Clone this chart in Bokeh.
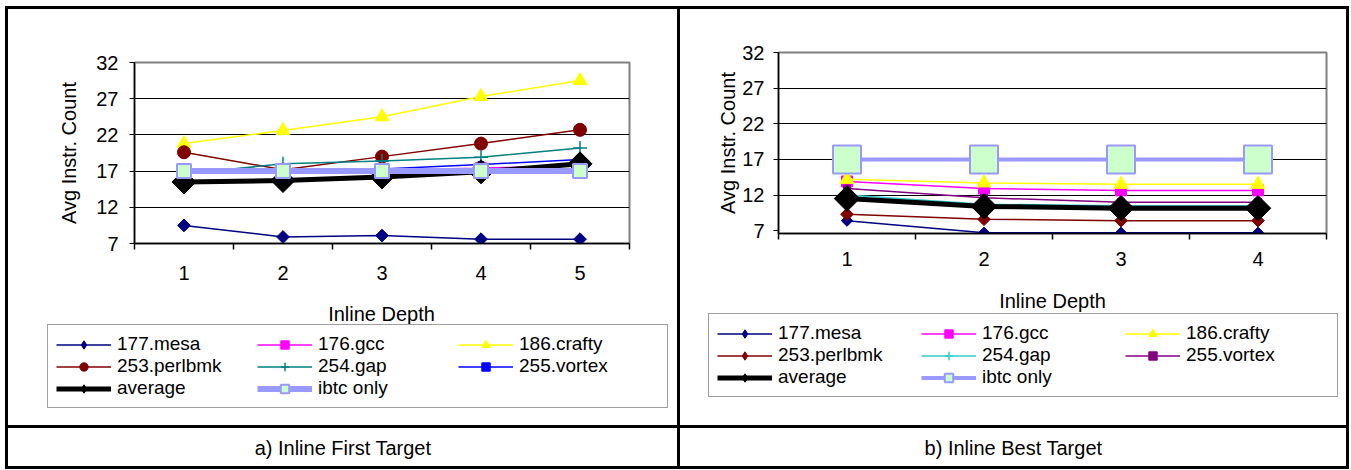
import numpy as np
from bokeh.plotting import figure
from bokeh.models import FixedTicker, Legend, LegendItem, Label, Spacer, Range1d
from bokeh.layouts import row, column
from bokeh.embed import file_html
from bokeh.resources import INLINE

FONT = "Liberation Sans"

# ---------------- data ----------------
series_names = ["177.mesa", "176.gcc", "186.crafty", "253.perlbmk",
                "254.gap", "255.vortex", "average", "ibtc only"]
y_ticks = [7, 12, 17, 22, 27, 32]
x_title = "Inline Depth"
y_title = "Avg Instr. Count"

# a) Inline First Target
depth_a = [1, 2, 3, 4, 5]
mesa_a = [9.5, 7.9, 8.1, 7.6, 7.6]
gcc_a = [17.2, 17.0, 17.2, 17.4, 17.8]
crafty_a = [20.8, 22.6, 24.5, 27.3, 29.5]
perlbmk_a = [19.6, 17.2, 19.0, 20.8, 22.7]
gap_a = [16.6, 18.0, 18.4, 18.9, 20.2]
vortex_a = [16.9, 17.0, 17.3, 17.9, 18.6]
average_a = [15.5, 15.7, 16.2, 16.9, 18.0]
ibtc_a = [17, 17, 17, 17, 17]

# b) Inline Best Target
depth_b = [1, 2, 3, 4]
mesa_b = [8.4, 6.7, 6.7, 6.7]
gcc_b = [13.9, 12.9, 12.65, 12.65]
crafty_b = [14.2, 13.7, 13.5, 13.5]
perlbmk_b = [9.3, 8.6, 8.4, 8.4]
gap_b = [12.0, 10.7, 10.5, 10.5]
vortex_b = [12.9, 11.6, 11.0, 11.0]
average_b = [11.5, 10.4, 10.15, 10.15]
ibtc_b = [17, 17, 17, 17]

captions = ["a) Inline First Target", "b) Inline Best Target"]

# ---------------- styles ----------------
D = np.pi / 4
styles_a = [
    dict(color="#000080", lw=1.5, marker="square", size=9, fill="#000080", mline="#000080", mlw=1, angle=D),
    dict(color="#FF00FF", lw=1.5, marker="square", size=11, fill="#FF00FF", mline="#FF00FF", mlw=1, angle=0),
    dict(color="#FFFF00", lw=1.5, marker="triangle", size=14, fill="#FFFF00", mline="#FFFF00", mlw=1, angle=0),
    dict(color="#800000", lw=1.5, marker="circle", size=13, fill="#800000", mline="#800000", mlw=1, angle=0),
    dict(color="#008080", lw=1.5, marker="cross", size=14, fill="#008080", mline="#008080", mlw=1.5, angle=0),
    dict(color="#0000FF", lw=1.5, marker="square", size=6, fill="#0000FF", mline="#0000FF", mlw=1, angle=0),
    dict(color="#000000", lw=5, marker="square", size=17, fill="#000000", mline="#000000", mlw=1, angle=D),
    dict(color="#9999FF", lw=6, marker="square", size=14, fill="#CCFFCC", mline="#9999FF", mlw=2, angle=0),
]
styles_b = [
    dict(color="#000080", lw=1.5, marker="square", size=8, fill="#000080", mline="#000080", mlw=1, angle=D),
    dict(color="#FF00FF", lw=1.5, marker="square", size=11, fill="#FF00FF", mline="#FF00FF", mlw=1, angle=0),
    dict(color="#FFFF00", lw=1.5, marker="triangle", size=14, fill="#FFFF00", mline="#FFFF00", mlw=1, angle=0),
    dict(color="#800000", lw=1.5, marker="square", size=9, fill="#800000", mline="#800000", mlw=1, angle=D),
    dict(color="#33CCCC", lw=1.5, marker="cross", size=14, fill="#33CCCC", mline="#33CCCC", mlw=1.5, angle=0),
    dict(color="#800080", lw=1.5, marker="square", size=7, fill="#800080", mline="#800080", mlw=1, angle=0),
    dict(color="#000000", lw=5, marker="square", size=18, fill="#000000", mline="#000000", mlw=1, angle=D),
    dict(color="#9999FF", lw=4, marker="square", size=28, fill="#CCFFCC", mline="#9999FF", mlw=2, angle=0),
]


def make_panel(x, ys, styles, width, height, borders, y_start,
               ytick_standoff, ylab_standoff, xtick_standoff, margin):
    left, right, top, bottom = borders
    p = figure(width=width, height=height, toolbar_location=None, output_backend="svg",
               x_range=Range1d(0.5, len(x) + 0.5), y_range=Range1d(y_start, 32),
               min_border_left=left, min_border_right=right,
               min_border_top=top, min_border_bottom=bottom, margin=margin)
    p.background_fill_color = "white"
    p.border_fill_color = "white"
    p.outline_line_color = "#808080"
    p.outline_line_width = 2

    p.xgrid.visible = False
    p.ygrid.ticker = FixedTicker(ticks=y_ticks[1:-1])
    p.ygrid.grid_line_color = "black"
    p.ygrid.grid_line_width = 1

    ya = p.yaxis[0]
    ya.ticker = FixedTicker(ticks=y_ticks)
    ya.axis_label = y_title
    ya.axis_label_text_font = FONT
    ya.axis_label_text_font_size = "20px"
    ya.axis_label_text_font_style = "normal"
    ya.axis_label_text_color = "black"
    ya.axis_label_standoff = ylab_standoff
    ya.major_label_text_font = FONT
    ya.major_label_text_font_size = "20px"
    ya.major_label_text_color = "black"
    ya.major_label_standoff = ytick_standoff
    ya.major_tick_out = 5
    ya.major_tick_in = 0
    ya.major_tick_line_color = "black"
    ya.minor_tick_line_color = None
    ya.axis_line_color = "black"
    ya.axis_line_width = 1.5

    xa = p.xaxis[0]
    bounds = [v - 0.5 for v in x] + [x[-1] + 0.5]
    xa.ticker = FixedTicker(ticks=x, minor_ticks=bounds)
    xa.major_label_text_font = FONT
    xa.major_label_text_font_size = "20px"
    xa.major_label_text_color = "black"
    xa.major_label_standoff = xtick_standoff
    xa.major_tick_out = 5
    xa.major_tick_in = 0
    xa.major_tick_line_color = None
    xa.minor_tick_out = 6
    xa.minor_tick_in = 0
    xa.minor_tick_line_color = "black"
    xa.minor_tick_line_width = 1.5
    xa.axis_line_color = "black"
    xa.axis_line_width = 1.5

    for y, st in zip(ys, styles):
        p.line(x, y, line_color=st["color"], line_width=st["lw"])
        p.scatter(x, y, marker=st["marker"], size=st["size"], angle=st["angle"],
                  fill_color=st["fill"], line_color=st["mline"], line_width=st["mlw"])
    return p


def make_legend_fig(x, ys, styles, width, height, loc, label_width, title_xy):
    """Area under a chart: x-axis title and legend box."""
    f = figure(width=width, height=height, toolbar_location=None, output_backend="svg",
               x_range=Range1d(0, width), y_range=Range1d(height, 0), min_border=0)
    f.extra_y_ranges = {"keys": Range1d(1000, 1001)}   # keeps legend-key renderers off view
    f.xaxis.visible = False
    f.yaxis.visible = False
    f.grid.visible = False
    f.outline_line_color = None
    f.background_fill_color = "white"
    f.border_fill_color = "white"
    f.add_layout(Label(x=title_xy[0], y=title_xy[1], text=x_title, text_align="center",
                       text_baseline="middle", text_font=FONT, text_font_size="20px",
                       text_color="black"))
    items = []
    for name, y, st in zip(series_names, ys, styles):
        key_marker = "diamond" if st["angle"] else st["marker"]
        lr = f.line(x, y, line_color=st["color"], line_width=st["lw"], y_range_name="keys")
        sr = f.scatter(x, y, marker=key_marker, size=st["size"],
                       fill_color=st["fill"], line_color=st["mline"], line_width=st["mlw"],
                       y_range_name="keys")
        items.append(LegendItem(label=name, renderers=[lr, sr]))
    legend = Legend(items=items, location=loc, orientation="horizontal", ncols=3,
                    glyph_width=55, glyph_height=21, label_height=21,
                    label_width=label_width, label_standoff=6, spacing=0, padding=8, margin=0,
                    label_text_font=FONT, label_text_font_size="19px",
                    label_text_color="black",
                    border_line_color="#404040", border_line_width=1,
                    background_fill_color="white", background_fill_alpha=1)
    f.add_layout(legend, "center")
    return f


def make_caption(text, width, height):
    c = figure(width=width, height=height, toolbar_location=None, output_backend="svg",
               x_range=Range1d(0, 1), y_range=Range1d(0, 1), min_border=0)
    c.xaxis.visible = False
    c.yaxis.visible = False
    c.grid.visible = False
    c.outline_line_color = None
    c.background_fill_color = "white"
    c.border_fill_color = "white"
    c.add_layout(Label(x=0.5, y=0.5, text=text, text_align="center", text_baseline="middle",
                       text_font=FONT, text_font_size="20px", text_color="black"))
    return c


WA, WB = 669, 666       # cell widths
H1 = 271                # plot figure height
SH = 10                 # top shift of panel a
HL = 135                # legend strip height
HCAP = 38
B = 3

ys_a = [mesa_a, gcc_a, crafty_a, perlbmk_a, gap_a, vortex_a, average_a, ibtc_a]
ys_b = [mesa_b, gcc_b, crafty_b, perlbmk_b, gap_b, vortex_b, average_b, ibtc_b]

pa = make_panel(depth_a, ys_a, styles_a, WA, H1, (126, 48, 43, 47), 7,
                ytick_standoff=11, ylab_standoff=13, xtick_standoff=16, margin=(SH, 0, 0, 0))
pb = make_panel(depth_b, ys_b, styles_b, WB, H1, (98, 20, 43, 47), 6.6,
                ytick_standoff=9, ylab_standoff=0, xtick_standoff=12, margin=(0, 0, 0, 0))

la = make_legend_fig(depth_a, ys_a, styles_a, WA, HL, (39, 17), 140, (373, 23))
lb = make_legend_fig(depth_b, ys_b, styles_b, WB, HL, (28, 28), 143, (372, 10))

ca = make_caption(captions[0], WA, HCAP)
cb = make_caption(captions[1], WB, HCAP)

BLACK = {"background-color": "black"}


def vbar(h):
    return Spacer(width=B, height=h, styles=BLACK)


def hbar(w):
    return Spacer(width=w, height=B, styles=BLACK)


TOTAL_W = B + WA + B + WB + B
table = column(
    hbar(TOTAL_W),
    row(vbar(H1 + SH), pa, vbar(H1 + SH), pb, vbar(H1 + SH)),
    row(vbar(HL), la, vbar(HL), lb, vbar(HL)),
    hbar(TOTAL_W),
    row(vbar(HCAP), ca, vbar(HCAP), cb, vbar(HCAP)),
    hbar(TOTAL_W),
)
layout = row(Spacer(width=5, height=10), column(Spacer(width=TOTAL_W, height=6), table))

open("out.html", "w").write(file_html(layout, INLINE))
